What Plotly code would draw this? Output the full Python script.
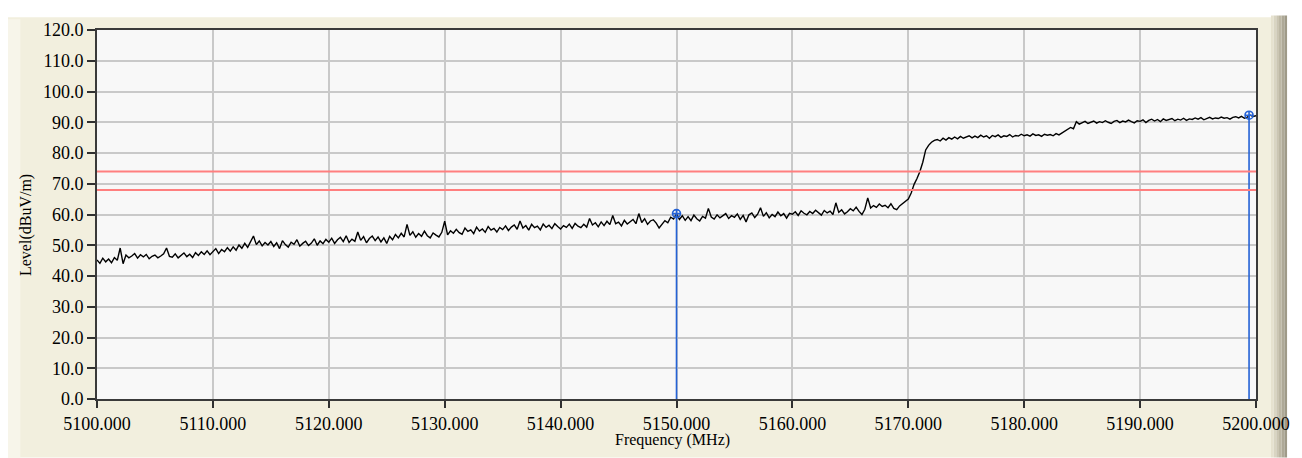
import plotly.graph_objects as go

# ---------------- data ----------------
freq_start = 5100.0
freq_step = 0.25
level_dbuv = [
    45.2, 44.1, 45.8, 44.6, 45.5, 44.3, 46.0, 45.1, 49.1, 44.0, 46.8, 45.9, 46.5, 47.3, 45.8, 46.9, 46.2, 47.0, 45.6, 46.4,
    46.8, 45.9, 46.5, 47.2, 49.1, 46.4, 46.1, 47.2, 45.9, 46.8, 47.5, 46.3, 47.1, 46.0, 47.6, 46.7, 47.9, 47.0, 48.2, 46.9,
    47.8, 48.9, 47.3, 48.6, 47.9, 49.2, 48.1, 49.5, 48.4, 50.1, 49.0, 50.6, 49.3, 51.0, 53.0, 50.2, 51.4, 49.8, 50.9, 50.1,
    51.2, 49.6, 50.8, 48.9, 51.5, 50.2, 49.4, 51.0, 50.3, 51.8, 49.7, 50.6, 51.3, 49.9, 50.7, 52.1, 50.0, 51.4, 50.5, 51.9,
    51.0, 52.3, 50.6, 51.8, 52.6, 51.2, 53.1, 50.9, 52.0, 51.3, 54.3, 51.6, 52.8, 50.8, 52.2, 53.0, 51.5, 52.7, 51.1, 52.4,
    50.6, 52.9, 51.8, 53.5, 52.4, 53.9, 52.7, 56.8, 53.2, 54.4, 52.6, 53.8, 52.9, 54.6, 53.1, 52.4, 54.0, 53.3, 52.7, 54.2,
    57.8, 53.4, 54.7, 53.9, 55.2, 54.1, 53.6, 55.6, 54.5, 55.0, 53.8, 55.9, 54.6, 55.3, 54.2, 56.1, 54.9, 55.5, 54.3, 55.8,
    55.1, 56.3, 54.8, 55.9, 56.6, 55.2, 57.9, 55.6, 56.4, 54.9, 56.8, 55.7, 56.2, 55.0, 56.9, 55.8, 56.5, 55.4, 57.0, 56.1,
    55.3, 56.4, 55.8, 56.9, 55.5, 57.1, 56.2, 55.7, 56.8, 55.9, 58.7, 56.6, 57.3, 56.0, 57.6, 56.4, 57.8, 56.7, 59.7, 57.0,
    57.5, 56.3, 58.1, 56.9, 57.7, 58.4, 57.0, 60.3, 57.4, 58.6, 56.8, 57.9, 58.3, 57.2, 55.6, 56.8, 58.0, 57.3, 59.1, 58.5,
    60.3, 58.4, 59.6, 58.1, 59.3, 58.0, 59.8, 58.6, 57.9, 59.4, 58.8, 62.0, 59.2, 58.5, 59.9, 58.9, 59.5, 60.3, 58.7, 59.6,
    59.1, 60.2, 58.4, 59.7, 57.6, 59.9, 60.5, 59.0, 60.1, 62.2, 59.4, 60.6, 58.9, 60.0, 59.3, 60.8, 59.6, 60.3, 58.8, 60.4,
    60.1, 60.9, 59.7, 61.2, 60.4, 59.9, 61.0, 60.3, 61.4, 60.6, 59.8, 61.3, 60.5, 61.1, 60.0, 63.8, 60.7, 61.5, 60.2, 60.9,
    61.9, 61.2, 62.4, 61.0, 60.0, 61.7, 65.4, 62.1, 62.9, 62.3, 63.4, 62.6, 63.0, 62.2, 63.5, 62.0, 61.6, 62.8, 63.5, 64.0,
    65.0, 67.0, 69.8, 71.7, 74.0, 77.0, 81.0, 82.5, 83.5, 84.1, 84.4, 83.9, 84.8, 84.2, 85.0, 84.5, 85.2, 84.6, 85.4, 84.8,
    85.1, 85.6, 84.9, 85.5, 85.0, 85.8, 85.2, 85.6, 84.8, 85.7, 85.3, 85.9, 85.1, 85.6, 85.4, 86.0, 85.2, 85.7, 85.5, 86.1,
    85.6, 85.9, 85.5, 86.2, 85.7, 85.9, 85.4, 86.1, 85.8, 86.0, 85.6, 86.3, 85.9, 86.5, 87.2, 87.6, 88.3, 87.9, 90.2, 89.4,
    89.8, 90.3, 89.6, 90.1, 90.4, 89.7, 90.2, 89.9, 90.5, 90.0, 89.6, 90.3, 90.6, 89.9, 90.4, 90.1, 90.7, 90.2, 89.8, 90.5,
    90.3, 90.8, 89.9, 90.6, 91.0, 90.4, 90.9, 90.2, 91.1, 90.6, 90.8, 91.2, 90.5, 91.0, 90.7, 91.3, 90.6, 91.1, 90.9, 91.4,
    91.0, 91.5, 90.8, 91.3, 91.6, 91.1, 91.4, 91.2, 91.7, 91.3, 91.5, 91.0, 91.6, 91.8, 91.4, 91.9, 91.3, 91.7, 92.3, 91.9,
    92.1,
]
freq_mhz = [freq_start + i * freq_step for i in range(len(level_dbuv))]

limit_levels = [74.0, 68.0]
marker_freqs = [5150.0, 5199.4]
marker_levels = [60.3, 92.3]

x_ticks = [5100, 5110, 5120, 5130, 5140, 5150, 5160, 5170, 5180, 5190, 5200]
y_ticks = [0, 10, 20, 30, 40, 50, 60, 70, 80, 90, 100, 110, 120]
x_tick_labels = ["%.3f" % v for v in x_ticks]
y_tick_labels = ["%.1f" % v for v in y_ticks]

# ---------------- layout geometry (page pixels; page has 8px body margin) ----------------
OFF = 8
W, H = 1302 - OFF, 458 - OFF
PL, PR, PT, PB = 97, 1261, 20, 399  # plot area in page pixels
pw, ph = PR - PL, PB - PT


def px(xp):
    return (xp - PL) / pw


def py(yp):
    return (PB - yp) / ph


FONT = "Liberation Serif"
BLUE = "#2462D6"

fig = go.Figure()

fig.add_trace(go.Scatter(
    x=freq_mhz, y=level_dbuv, mode="lines",
    line=dict(color="#000000", width=1.4), hoverinfo="x+y", showlegend=False,
))

for f, v in zip(marker_freqs, marker_levels):
    fig.add_trace(go.Scatter(
        x=[f, f], y=[0, v], mode="lines",
        line=dict(color=BLUE, width=1.6), showlegend=False,
    ))
fig.add_trace(go.Scatter(
    x=marker_freqs, y=marker_levels, mode="markers",
    marker=dict(symbol="circle-cross-open", size=8, color=BLUE, line=dict(width=1.6, color=BLUE)),
    showlegend=False, cliponaxis=False,
))

shapes = []
# beige panel
shapes.append(dict(type="rect", xref="paper", yref="paper", layer="below",
                   x0=px(7), x1=px(1276), y0=py(459), y1=py(7),
                   fillcolor="#F2EFDE", line=dict(width=0)))
# lighter inner-left band
shapes.append(dict(type="rect", xref="paper", yref="paper", layer="below",
                   x0=px(7), x1=px(20), y0=py(459), y1=py(9),
                   fillcolor="#F7F5EA", line=dict(width=0)))
# right-hand shaded bar
bar_cols = ["#E6E2CF", "#D9D5C2", "#CBC6B3", "#BDB8A5", "#AEA997", "#9F9A88"]
for i, c in enumerate(bar_cols):
    shapes.append(dict(type="rect", xref="paper", yref="paper", layer="below",
                       x0=px(1276 + i * 2.7), x1=px(1276 + (i + 1) * 2.7), y0=py(459), y1=py(5),
                       fillcolor=c, line=dict(width=0)))
# plot background
shapes.append(dict(type="rect", xref="paper", yref="paper", layer="below",
                   x0=0, x1=1, y0=0, y1=1, fillcolor="#F8F8F8", line=dict(width=0)))
# limit lines
for lv in limit_levels:
    shapes.append(dict(type="line", xref="paper", yref="y", x0=0, x1=1, y0=lv, y1=lv,
                       line=dict(color="#FF7F7F", width=2), layer="above"))

annotations = [
    dict(text="Level(dBuV/m)", xref="paper", yref="paper", x=px(25), y=py(220),
         textangle=-90, showarrow=False, font=dict(family=FONT, size=16, color="#000000"),
         xanchor="center", yanchor="middle"),
    dict(text="Frequency (MHz)", xref="paper", yref="paper", x=px(675), y=py(441),
         showarrow=False, font=dict(family=FONT, size=16, color="#000000"),
         xanchor="center", yanchor="middle"),
]

fig.update_layout(
    width=W, height=H,
    margin=dict(l=PL - OFF, r=(W + OFF) - PR, t=PT - OFF, b=(H + OFF) - PB, pad=0),
    paper_bgcolor="#FFFFFF", plot_bgcolor="rgba(0,0,0,0)",
    shapes=shapes, annotations=annotations, showlegend=False,
    xaxis=dict(
        range=[5100, 5200], tickmode="array", tickvals=x_ticks, ticktext=x_tick_labels,
        showgrid=True, gridcolor="#C9C9C9", gridwidth=2, zeroline=False,
        showline=True, linecolor="#3A3A3A", linewidth=2, mirror=True,
        ticks="outside", ticklen=7, tickwidth=2, tickcolor="#303030",
        tickfont=dict(family=FONT, size=18, color="#000000"),
    ),
    yaxis=dict(
        range=[0, 120], tickmode="array", tickvals=y_ticks, ticktext=y_tick_labels,
        showgrid=True, gridcolor="#C9C9C9", gridwidth=2, zeroline=False,
        showline=True, linecolor="#3A3A3A", linewidth=2, mirror=True,
        ticks="outside", ticklen=8, tickwidth=2, tickcolor="#303030",
        tickfont=dict(family=FONT, size=18, color="#000000"),
    ),
)

fig.write_html("out.html")
